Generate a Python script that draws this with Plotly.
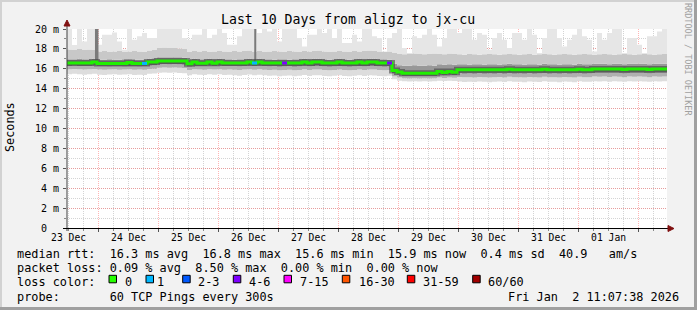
import plotly.graph_objects as go
import pandas as pd

# ---------------- data ----------------
START = "2025-12-23 11:22"
END = "2026-01-02 11:22"
STEP = "2h"

median = [
    16.58, 16.58, 16.58, 16.58, 16.58, 16.68, 16.54, 16.54, 16.54, 16.54,
    16.54, 16.54, 16.64, 16.54, 16.54, 16.54, 16.68, 16.68, 16.78, 16.78,
    16.78, 16.78, 16.78, 16.78, 16.50, 16.68, 16.56, 16.56, 16.68, 16.56,
    16.68, 16.58, 16.58, 16.58, 16.58, 16.58, 16.68, 16.58, 16.68, 16.58,
    16.58, 16.58, 16.58, 16.58, 16.58, 16.58, 16.58, 16.68, 16.58, 16.68,
    16.68, 16.58, 16.58, 16.58, 16.68, 16.58, 16.58, 16.58, 16.68, 16.58,
    16.68, 16.68, 16.58, 16.58, 16.58, 15.84, 15.68, 15.56, 15.56, 15.56,
    15.56, 15.56, 15.56, 15.56, 15.72, 15.64, 15.72, 15.66, 15.90, 15.90,
    15.90, 15.90, 15.90, 15.90, 15.90, 15.90, 15.90, 15.90, 15.96, 15.90,
    15.90, 15.90, 15.90, 15.90, 15.90, 15.96, 15.90, 15.90, 15.90, 15.90,
    15.90, 15.90, 15.96, 15.90, 15.90, 15.98, 15.98, 15.98, 15.98, 15.98,
    15.98, 15.92, 15.98, 15.98, 15.98, 15.98, 15.92, 15.98, 15.98, 15.98,
]

smoke_min = [
    15.45, 15.5, 15.45, 15.4, 15.45, 15.5, 15.4, 15.38, 15.42, 15.45,
    15.4, 15.42, 15.45, 15.38, 15.4, 15.38, 15.5, 15.52, 15.6, 15.62,
    15.6, 15.62, 15.58, 15.55, 15.35, 15.45, 15.4, 15.38, 15.45, 15.4,
    15.45, 15.38, 15.4, 15.35, 15.3, 15.38, 15.42, 15.35, 15.4, 15.35,
    15.3, 15.32, 15.25, 15.3, 15.32, 15.25, 15.3, 15.38, 15.28, 15.35,
    15.35, 15.28, 15.25, 15.3, 15.35, 15.28, 15.25, 15.3, 15.35, 15.28,
    15.35, 15.32, 15.28, 15.25, 15.3, 14.95, 14.8, 14.75, 14.72, 14.75,
    14.72, 14.75, 14.72, 14.75, 14.8, 14.78, 14.8, 14.78, 14.72, 14.68,
    14.7, 14.68, 14.72, 14.7, 14.65, 14.7, 14.72, 14.68, 14.75, 14.7,
    14.7, 14.65, 14.72, 14.7, 14.68, 14.75, 14.7, 14.7, 14.65, 14.72,
    14.7, 14.65, 14.75, 14.7, 14.7, 14.75, 14.72, 14.75, 14.7, 14.75,
    14.72, 14.7, 14.75, 14.72, 14.75, 14.72, 14.7, 14.75, 14.72, 14.75,
]

smoke_p10 = [
    15.95, 15.98, 15.95, 15.92, 15.95, 15.98, 15.92, 15.9, 15.92, 15.95,
    15.9, 15.92, 15.95, 15.9, 15.92, 15.9, 15.98, 16.0, 16.1, 16.12,
    16.1, 16.12, 16.1, 16.08, 15.88, 15.95, 15.92, 15.9, 15.95, 15.92,
    15.95, 15.9, 15.92, 15.9, 15.88, 15.92, 15.95, 15.9, 15.95, 15.9,
    15.88, 15.9, 15.85, 15.88, 15.9, 15.85, 15.88, 15.95, 15.88, 15.92,
    15.92, 15.88, 15.85, 15.88, 15.92, 15.88, 15.85, 15.88, 15.92, 15.88,
    15.92, 15.92, 15.88, 15.85, 15.88, 15.25, 15.12, 15.05, 15.02, 15.05,
    15.02, 15.05, 15.02, 15.05, 15.12, 15.08, 15.12, 15.1, 15.18, 15.15,
    15.15, 15.12, 15.18, 15.15, 15.12, 15.15, 15.18, 15.12, 15.2, 15.15,
    15.15, 15.12, 15.18, 15.15, 15.12, 15.2, 15.15, 15.15, 15.12, 15.18,
    15.15, 15.12, 15.2, 15.15, 15.15, 15.22, 15.2, 15.22, 15.18, 15.22,
    15.2, 15.15, 15.22, 15.2, 15.22, 15.2, 15.15, 15.22, 15.2, 15.22,
]

smoke_p30 = [
    16.28, 16.3, 16.28, 16.25, 16.28, 16.3, 16.25, 16.25, 16.22, 16.25,
    16.25, 16.22, 16.28, 16.25, 16.22, 16.25, 16.3, 16.32, 16.42, 16.45,
    16.42, 16.45, 16.42, 16.4, 16.2, 16.28, 16.25, 16.25, 16.3, 16.25,
    16.3, 16.25, 16.28, 16.25, 16.22, 16.25, 16.3, 16.25, 16.3, 16.25,
    16.22, 16.25, 16.2, 16.22, 16.25, 16.2, 16.22, 16.3, 16.22, 16.28,
    16.28, 16.22, 16.2, 16.22, 16.28, 16.22, 16.2, 16.22, 16.28, 16.22,
    16.28, 16.28, 16.22, 16.2, 16.22, 15.55, 15.4, 15.28, 15.25, 15.28,
    15.25, 15.28, 15.25, 15.28, 15.4, 15.35, 15.4, 15.38, 15.55, 15.5,
    15.52, 15.5, 15.55, 15.5, 15.52, 15.5, 15.55, 15.5, 15.55, 15.5,
    15.52, 15.5, 15.55, 15.5, 15.52, 15.55, 15.5, 15.52, 15.5, 15.55,
    15.5, 15.52, 15.55, 15.5, 15.52, 15.58, 15.55, 15.58, 15.55, 15.58,
    15.55, 15.52, 15.58, 15.55, 15.58, 15.55, 15.52, 15.58, 15.55, 15.58,
]

smoke_p70 = [
    16.95, 16.95, 17.0, 16.95, 16.95, 17.0, 16.9, 16.9, 16.95, 16.9,
    16.9, 16.95, 16.95, 16.9, 16.9, 16.9, 17.0, 17.05, 17.15, 17.15,
    17.15, 17.15, 17.15, 17.1, 16.9, 17.0, 16.95, 16.95, 17.0, 16.95,
    17.0, 16.95, 16.95, 16.9, 16.95, 16.95, 17.0, 16.95, 17.0, 16.95,
    16.95, 16.9, 16.95, 16.95, 16.9, 16.95, 16.95, 17.0, 16.95, 17.0,
    17.0, 16.95, 16.9, 16.95, 17.0, 16.95, 16.9, 16.95, 17.0, 16.95,
    17.0, 17.0, 16.95, 16.95, 16.9, 16.5, 16.35, 16.3, 16.3, 16.35,
    16.3, 16.3, 16.35, 16.3, 16.45, 16.4, 16.45, 16.4, 16.45, 16.45,
    16.4, 16.45, 16.45, 16.4, 16.45, 16.45, 16.4, 16.45, 16.5, 16.45,
    16.45, 16.4, 16.45, 16.45, 16.4, 16.5, 16.45, 16.45, 16.4, 16.45,
    16.45, 16.4, 16.5, 16.45, 16.45, 16.5, 16.5, 16.5, 16.45, 16.5,
    16.5, 16.45, 16.5, 16.5, 16.5, 16.5, 16.45, 16.5, 16.5, 16.5,
]

smoke_p90 = [
    17.95, 17.9, 18.0, 17.9, 17.95, 17.9, 17.75, 17.8, 17.7, 17.75,
    17.8, 17.7, 17.75, 17.8, 17.75, 17.7, 17.85, 17.9, 18.1, 18.15,
    18.1, 18.1, 18.05, 18.0, 17.7, 17.8, 17.75, 17.8, 17.7, 17.75,
    17.8, 17.75, 17.7, 17.8, 17.75, 17.8, 17.85, 17.75, 17.8, 17.7,
    17.75, 17.8, 17.75, 17.7, 17.8, 17.75, 17.7, 17.8, 17.75, 17.8,
    17.85, 17.75, 17.7, 17.75, 17.8, 17.75, 17.7, 17.8, 17.75, 17.8,
    17.85, 17.8, 17.75, 17.7, 17.75, 17.6, 17.5, 17.45, 17.5, 17.55,
    17.5, 17.45, 17.5, 17.55, 17.5, 17.45, 17.55, 17.5, 17.45, 17.4,
    17.5, 17.45, 17.4, 17.45, 17.5, 17.45, 17.4, 17.45, 17.5, 17.45,
    17.4, 17.45, 17.5, 17.4, 17.45, 17.5, 17.45, 17.4, 17.45, 17.5,
    17.45, 17.4, 17.45, 17.5, 17.45, 17.4, 17.45, 17.5, 17.45, 17.4,
    17.45, 17.5, 17.45, 17.4, 17.45, 17.5, 17.45, 17.4, 17.45, 17.5,
]

smoke_max = [
    20.0, 18.4, 20.0, 18.75, 20.0, 20.0, 18.42, 19.43, 19.43, 19.66,
    18.75, 17.92, 20.0, 18.93, 19.26, 19.6, 19.1, 19.1, 20.0, 20.0,
    20.0, 20.0, 20.0, 19.1, 18.93, 19.43, 19.43, 20.0, 19.1, 19.43,
    20.0, 19.6, 18.42, 18.42, 19.26, 20.0, 20.0, 20.0, 19.6, 20.0,
    19.76, 20.0, 18.75, 20.0, 20.0, 20.0, 19.1, 18.25, 19.43, 19.43,
    20.0, 19.6, 20.0, 19.1, 20.0, 18.59, 18.59, 19.43, 18.75, 20.0,
    20.0, 19.26, 19.1, 17.75, 19.1, 19.6, 20.0, 18.09, 17.59, 19.26,
    19.1, 19.43, 20.0, 19.43, 18.25, 19.1, 20.0, 20.0, 19.6, 20.0,
    20.0, 18.93, 19.6, 19.43, 17.92, 19.1, 19.6, 18.93, 18.09, 19.6,
    19.6, 18.93, 20.0, 19.43, 17.59, 19.1, 20.0, 20.0, 19.1, 18.25,
    18.93, 19.43, 20.0, 19.26, 18.93, 17.75, 19.6, 18.93, 19.6, 20.0,
    20.0, 17.59, 19.1, 19.1, 18.42, 17.59, 19.26, 19.26, 19.76, 20.0,
]

# steps with packet loss: step index, loss class colour
loss_steps = [15, 37, 43, 64]
loss_colors = ["#00B8FF", "#00B8FF", "#7E00FF", "#7E00FF"]

# high-latency spikes
spike_times = ["2025-12-23 23:15", "2025-12-26 14:40"]
spike_low = [16.6, 16.58]
spike_high = [20.0, 20.0]
spike_widths = [3.5, 2]

y_tickvals = [0, 2, 4, 6, 8, 10, 12, 14, 16, 18, 20]
y_ticktext = ["0\u00a0\u00a0", "2\u00a0m", "4\u00a0m", "6\u00a0m", "8\u00a0m", "10\u00a0m",
              "12\u00a0m", "14\u00a0m", "16\u00a0m", "18\u00a0m", "20\u00a0m"]

legend_labels = ["0", "1", "2-3", "4-6", "7-15", "16-30", "31-59", "60/60"]
legend_colors = ["#26FF00", "#00B8FF", "#0059FF", "#7E00FF", "#FF00FF", "#FF5500", "#FF0000", "#A10000"]

title = "Last 10 Days from aligz to jx-cu"
row1 = "median rtt:  16.3 ms avg  16.8 ms max  15.6 ms min  15.9 ms now  0.4 ms sd  40.9   am/s"
row2 = "packet loss: 0.09 % avg  8.50 % max  0.00 % min  0.00 % now"
row3 = "loss color:"
row4 = "probe:       60 TCP Pings every 300s"
stamp = "Fri Jan  2 11:07:38 2026"

# ---------------- figure ----------------
MONO = "DejaVu Sans Mono"
L, R, T, B = 67, 30, 29, 82
W, H = 697, 310
PW, PH = W - L - R, H - T - B


def px(xp):
    return (xp - L) / PW


def py(yp):
    return (H - B - yp) / PH


def nb(s):
    return s.replace(" ", "\u00a0")


edges = list(pd.date_range(START, periods=len(median) + 1, freq=STEP))


def ext(a):
    return list(a) + [a[-1]]


fig = go.Figure()

bands = [
    (smoke_min, None),
    (smoke_p10, "#DDDDDD"),
    (smoke_p30, "#B0B0B0"),
    (median, "#7C7C7C"),
    (smoke_p70, "#989898"),
    (smoke_p90, "#C8C8C8"),
    (smoke_max, "#E6E6E6"),
]
for arr, col in bands:
    fig.add_trace(go.Scatter(
        x=edges, y=ext(arr), mode="lines",
        line=dict(width=0, shape="hv", color=col or "rgba(0,0,0,0)"),
        fill="tonexty" if col else None, fillcolor=col,
        hoverinfo="skip", showlegend=False))

for t, lo, hi, w in zip(spike_times, spike_low, spike_high, spike_widths):
    fig.add_trace(go.Scatter(x=[t, t], y=[lo, hi], mode="lines",
                             line=dict(color="#7A7A7A", width=w),
                             hoverinfo="skip", showlegend=False))

# dense core of the smoke around the median
fig.add_trace(go.Scatter(x=edges, y=ext(median), mode="lines",
                         line=dict(color="rgba(60,60,60,0.55)", width=6, shape="hv"),
                         hoverinfo="skip", showlegend=False))
fig.add_trace(go.Scatter(x=edges, y=ext(median), mode="lines",
                         line=dict(color="#20F000", width=3, shape="hv"),
                         hoverinfo="skip", showlegend=False))

for i, c in zip(loss_steps, loss_colors):
    fig.add_trace(go.Scatter(x=[edges[i], edges[i + 1]], y=[median[i], median[i]],
                             mode="lines", line=dict(color=c, width=3),
                             hoverinfo="skip", showlegend=False))

RED = "rgba(255,90,90,0.45)"
GRAY = "rgba(160,160,160,0.45)"

fig.update_layout(
    width=W, height=H, margin=dict(l=L, r=R, t=T, b=B, pad=0),
    paper_bgcolor="#F2F2F2", plot_bgcolor="#FFFFFF", showlegend=False,
    font=dict(family=MONO, size=10, color="#000000"),
)
fig.update_xaxes(
    type="date", range=[START, END], tick0="2025-12-24", dtick=86400000,
    tickformat="%d %b", ticklabelmode="period",
    showgrid=True, gridcolor=RED, griddash="1px,1px", gridwidth=1,
    ticks="outside", ticklen=3, tickcolor="#555555", tickfont=dict(size=9.7, family=MONO),
    ticklabelstandoff=-3,
    minor=dict(tick0="2025-12-24", dtick=6 * 3600000, showgrid=True, gridcolor=GRAY,
               griddash="1px,1px", ticks="outside", ticklen=2, tickcolor="#888888"),
    showline=False, zeroline=False, fixedrange=True,
)
fig.update_yaxes(
    range=[0, 20], tickmode="array", tickvals=y_tickvals, ticktext=y_ticktext,
    showgrid=True, gridcolor=RED, griddash="1px,1px", gridwidth=1,
    ticks="outside", ticklen=3, tickcolor="#555555", tickfont=dict(size=10, family=MONO),
    ticklabelstandoff=2,
    minor=dict(tick0=0, dtick=1, showgrid=True, gridcolor=GRAY, griddash="1px,1px",
               ticks="outside", ticklen=2, tickcolor="#888888"),
    showline=False, zeroline=False, fixedrange=True,
)

shapes = []
# frame
shapes.append(dict(type="rect", xref="paper", yref="paper", x0=px(0), x1=px(W), y0=py(H), y1=py(H - 3),
                   fillcolor="#A0A0A0", line=dict(width=0), layer="above"))
shapes.append(dict(type="rect", xref="paper", yref="paper", x0=px(W - 3), x1=px(W), y0=py(H), y1=py(0),
                   fillcolor="#A0A0A0", line=dict(width=0), layer="above"))
shapes.append(dict(type="rect", xref="paper", yref="paper", x0=px(0), x1=px(W - 3), y0=py(2), y1=py(0),
                   fillcolor="#D2D2D2", line=dict(width=0), layer="above"))
shapes.append(dict(type="rect", xref="paper", yref="paper", x0=px(0), x1=px(2), y0=py(H - 3), y1=py(0),
                   fillcolor="#D2D2D2", line=dict(width=0), layer="above"))
# axes
shapes.append(dict(type="line", xref="paper", yref="paper", x0=px(67), x1=px(67), y0=py(231), y1=py(25),
                   line=dict(color="#404040", width=1), layer="above"))
shapes.append(dict(type="line", xref="paper", yref="paper", x0=px(63), x1=px(669), y0=py(228.5), y1=py(228.5),
                   line=dict(color="#000000", width=1), layer="above"))
shapes.append(dict(type="path", xref="paper", yref="paper", layer="above",
                   path=f"M {px(674)} {py(228.5)} L {px(668)} {py(225.5)} L {px(668)} {py(231.5)} Z",
                   fillcolor="#801010", line=dict(color="#801010", width=1)))
shapes.append(dict(type="path", xref="paper", yref="paper", layer="above",
                   path=f"M {px(67)} {py(20)} L {px(64)} {py(26)} L {px(70)} {py(26)} Z",
                   fillcolor="#801010", line=dict(color="#801010", width=1)))

box_x = [109, 146, 182.7, 233.3, 284, 342.3, 407.3, 472.7]
text_x = [122.5, 155, 196, 247, 297.5, 356.5, 421, 486]
for bx, c in zip(box_x, legend_colors):
    shapes.append(dict(type="rect", xref="paper", yref="paper", x0=px(bx), x1=px(bx + 7.5),
                       y0=py(282.8), y1=py(275.3), fillcolor=c, line=dict(color="#000000", width=1),
                       layer="above"))

ann = []


def txt(text, x, y, size=11.85, xanchor="left", color="#000000", angle=0, yanchor="middle"):
    ann.append(dict(text=nb(text), x=px(x), y=py(y), xref="paper", yref="paper", showarrow=False,
                    xanchor=xanchor, yanchor=yanchor, textangle=angle,
                    font=dict(family=MONO, size=size, color=color)))


txt(title, 347.5, 19, size=13.2, xanchor="center")
txt("Seconds", 10, 127, size=11.8, xanchor="center", angle=-90)
txt("RRDTOOL / TOBI OETIKER", 688, 59, size=8.5, xanchor="center", color="#A0A0A0", angle=90)
txt(row1, 15, 254.3)
txt(row2, 15, 268.3)
txt(row3, 15, 281.7)
txt(row4, 15, 296.7)
txt(stamp, 681, 296.7, xanchor="right")
for lx, lab in zip(text_x, legend_labels):
    txt(lab, lx, 281.7)

fig.update_layout(shapes=shapes, annotations=ann)
fig.write_html("out.html")
